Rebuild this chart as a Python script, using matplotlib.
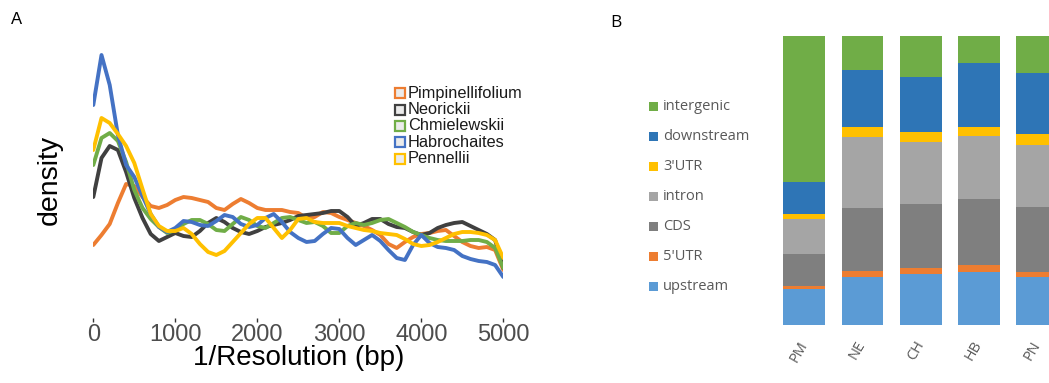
import numpy as np
import matplotlib.pyplot as plt
from matplotlib.patches import Rectangle

W, H = 1049, 383

# ---- panel A: density curves (heights, arbitrary units) ----
res_bp = np.arange(0, 5001, 100)

dens_pimp = [75, 85, 96, 117, 136, 134, 123, 114, 112, 115,
             120, 123, 122, 120, 118, 112, 110, 116, 121, 117,
             112, 110, 110, 110, 108, 107, 102, 103, 108, 107,
             103, 100, 97, 94, 90, 85, 76, 72, 78, 83,
             86, 87, 89, 90, 84, 78, 74, 72, 73, 70, 50]
dens_neor = [123, 162, 174, 170, 148, 122, 102, 86, 79, 83,
             87, 84, 83, 89, 97, 102, 98, 92, 88, 86,
             89, 93, 95, 97, 100, 104, 105, 106, 107, 109,
             109, 103, 94, 97, 101, 101, 96, 93, 92, 88,
             85, 87, 92, 95, 97, 98, 94, 90, 86, 80, 52]
dens_chmi = [155, 182, 187, 179, 158, 130, 112, 101, 93, 87,
             90, 96, 100, 100, 96, 90, 89, 96, 103, 100,
             94, 92, 97, 102, 103, 100, 97, 98, 94, 87,
             87, 94, 97, 95, 97, 100, 101, 97, 93, 88,
             85, 82, 80, 79, 79, 79, 80, 80, 78, 72, 52]
dens_habr = [215, 265, 235, 185, 155, 143, 124, 106, 93, 88,
             92, 99, 98, 95, 94, 99, 105, 103, 96, 93,
             95, 102, 106, 98, 88, 82, 78, 79, 86, 92,
             91, 82, 75, 80, 85, 79, 70, 62, 60, 75,
             85, 77, 73, 72, 70, 64, 61, 59, 58, 55, 43]
dens_penn = [170, 202, 197, 186, 174, 157, 131, 106, 94, 89,
             89, 92, 86, 76, 68, 65, 69, 78, 87, 96,
             102, 102, 92, 82, 90, 101, 102, 98, 97, 97,
             97, 94, 92, 90, 89, 87, 86, 85, 81, 76,
             74, 75, 78, 82, 86, 88, 88, 87, 85, 80, 62]

species = ['Pimpinellifolium', 'Neorickii', 'Chmielewskii', 'Habrochaites', 'Pennellii']
sp_colors = ['#ED7D31', '#404040', '#70AD47', '#4472C4', '#FFC000']
curves = [dens_pimp, dens_neor, dens_chmi, dens_habr, dens_penn]

# ---- panel B: stacked composition (%) ----
samples = ['PM', 'NE', 'CH', 'HB', 'PN']
regions = ['upstream', "5'UTR", 'CDS', 'intron', "3'UTR", 'downstream', 'intergenic']
reg_colors = ['#5B9BD5', '#ED7D31', '#7F7F7F', '#A5A5A5', '#FFC000', '#2E75B6', '#70AD47']
upstream = [12.4, 16.6, 17.7, 18.5, 16.8]
utr5 = [1.3, 2.2, 2.1, 2.2, 1.7]
cds = [10.8, 21.9, 22.1, 23.0, 22.5]
intron = [12.2, 24.3, 21.3, 21.7, 21.2]
utr3 = [1.7, 3.5, 3.7, 3.3, 4.0]
downstream = [11.2, 19.6, 19.0, 21.9, 21.0]
intergenic = [50.4, 11.9, 14.1, 9.4, 12.8]
stack = [upstream, utr5, cds, intron, utr3, downstream, intergenic]


def fx(px):
    return px / W


def fy(py):
    return 1 - py / H


fig = plt.figure(figsize=(W / 100, H / 100), dpi=100)

# panel A
axA = fig.add_axes([fx(93.3), fy(318), fx(503.3) - fx(93.3), fy(40) - fy(318)])
for c, col in zip(curves, sp_colors):
    axA.plot(res_bp, c, color=col, lw=2.8, solid_capstyle='round',
             solid_joinstyle='round')
axA.set_xlim(0, 5000)
axA.set_ylim(2, 280)
for s in axA.spines.values():
    s.set_visible(False)
axA.set_yticks([])
axA.set_xticks([0, 1000, 2000, 3000, 4000, 5000])
axA.tick_params(axis='x', length=3, width=1, color='#333333', pad=1,
                labelsize=17, labelcolor='#4d4d4d')
for lab in axA.get_xticklabels():
    lab.set_family('Liberation Sans')
axA.patch.set_alpha(0)

fig.text(fx(299), fy(358), '1/Resolution (bp)', ha='center', va='center',
         fontsize=20, family='Liberation Sans')
fig.text(fx(50), fy(180), 'density', ha='center', va='center', rotation=90,
         fontsize=20.5, family='Liberation Sans')
fig.text(fx(17), fy(20), 'A', ha='center', va='center', fontsize=12,
         family='Liberation Sans')

# legend A
for i, (name, col) in enumerate(zip(species, sp_colors)):
    yc = 93.3 + i * 16.3
    fig.patches.append(Rectangle((fx(395), fy(yc + 5)), fx(10), 10 / H,
                                 transform=fig.transFigure, facecolor='#ebebeb',
                                 edgecolor=col, lw=1.6))
    fig.text(fx(408), fy(yc), name, ha='left', va='center', fontsize=11.8,
             family='Liberation Sans', color='#1a1a1a')

# panel B
axB = fig.add_axes([fx(775), fy(325.3), 1 - fx(775), fy(36) - fy(325.3)])
xpos = np.arange(len(samples))
bottom = np.zeros(len(samples))
for vals, col in zip(stack, reg_colors):
    axB.bar(xpos, vals, 0.715, bottom=bottom, color=col, edgecolor='none')
    bottom += np.array(vals)
axB.set_xlim(-0.5, 4.2)
axB.set_ylim(0, 100)
for s in axB.spines.values():
    s.set_visible(False)
axB.set_yticks([])
axB.set_xticks(xpos)
axB.set_xticklabels(samples, rotation=60, rotation_mode='anchor', ha='right',
                    va='center', family='Open Sans', fontsize=10.5, color='#595959')
axB.tick_params(axis='x', length=0, pad=12)

fig.text(fx(616), fy(23), 'B', ha='center', va='center', fontsize=12.5,
         family='Open Sans')

# legend B (top entry is intergenic)
for i, (name, col) in enumerate(zip(regions[::-1], reg_colors[::-1])):
    yc = 106.7 + i * 30
    fig.patches.append(Rectangle((fx(649), fy(yc + 4.5)), fx(9), 9 / H,
                                 transform=fig.transFigure, facecolor=col,
                                 edgecolor='none'))
    fig.text(fx(663), fy(yc), name, ha='left', va='center', fontsize=10.5,
             family='Open Sans', color='#595959')

fig.savefig('out.png', dpi=100)
